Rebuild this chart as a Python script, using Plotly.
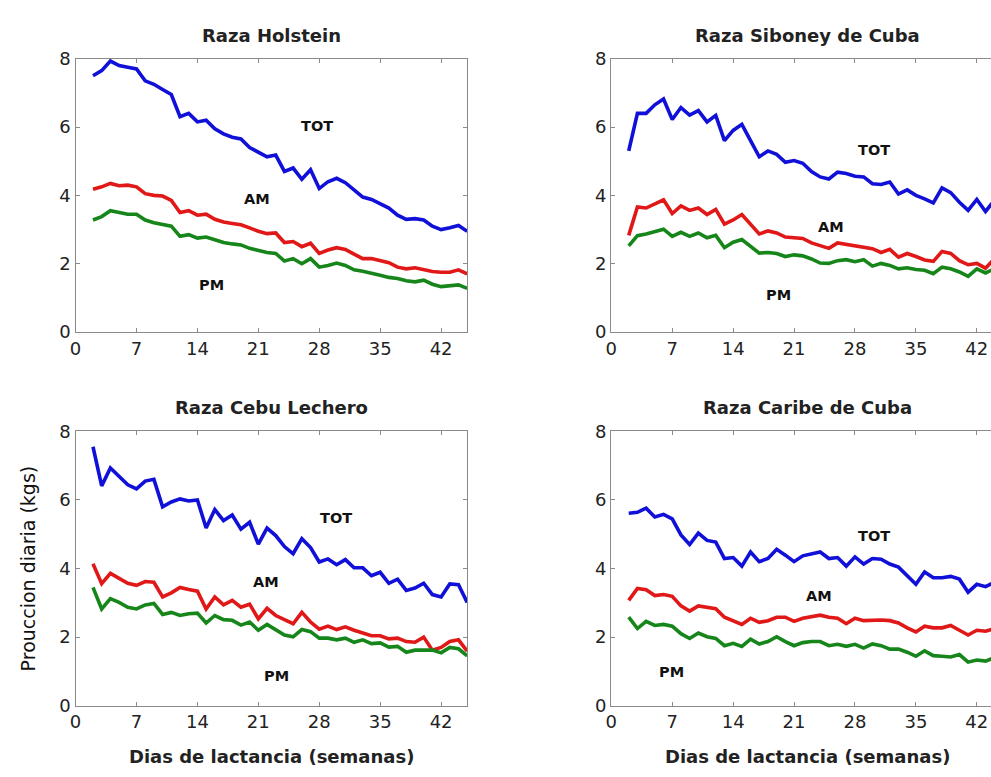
import plotly.graph_objects as go

W, H = 991, 777
weeks = list(range(2, 46))

holstein_tot = [7.5, 7.65, 7.93, 7.8, 7.75, 7.7, 7.35, 7.25, 7.1, 6.95, 6.3, 6.4, 6.15, 6.2, 5.95, 5.8, 5.7, 5.65, 5.4, 5.25, 5.13, 5.18, 4.7, 4.8, 4.47, 4.75, 4.2, 4.4, 4.5, 4.37, 4.15, 3.95, 3.88, 3.75, 3.63, 3.42, 3.3, 3.32, 3.28, 3.1, 3.0, 3.05, 3.12, 2.95]
holstein_am = [4.18, 4.25, 4.35, 4.28, 4.3, 4.25, 4.05, 4.0, 3.98, 3.85, 3.5, 3.55, 3.42, 3.45, 3.3, 3.22, 3.18, 3.14, 3.05, 2.95, 2.88, 2.9, 2.62, 2.65, 2.5, 2.6, 2.3, 2.4, 2.47, 2.42, 2.28, 2.15, 2.15, 2.08, 2.03, 1.9, 1.85, 1.88, 1.83, 1.77, 1.75, 1.75, 1.82, 1.7]
holstein_pm = [3.28, 3.38, 3.55, 3.5, 3.45, 3.45, 3.28, 3.2, 3.15, 3.1, 2.8, 2.85, 2.75, 2.78, 2.7, 2.62, 2.58, 2.55, 2.45, 2.38, 2.33, 2.3, 2.08, 2.15, 2.0, 2.15, 1.9, 1.95, 2.02, 1.95, 1.82, 1.78, 1.73, 1.66, 1.6, 1.57, 1.5, 1.47, 1.52, 1.4, 1.33, 1.35, 1.38, 1.28]

siboney_tot = [5.3, 6.4, 6.4, 6.65, 6.82, 6.22, 6.57, 6.35, 6.48, 6.15, 6.34, 5.6, 5.9, 6.08, 5.6, 5.13, 5.3, 5.2, 4.97, 5.02, 4.94, 4.7, 4.54, 4.48, 4.68, 4.64, 4.56, 4.54, 4.34, 4.32, 4.39, 4.04, 4.16, 4.0, 3.9, 3.78, 4.22, 4.08, 3.8, 3.56, 3.88, 3.53, 3.85, 3.7]
siboney_am = [2.83, 3.66, 3.63, 3.75, 3.87, 3.47, 3.69, 3.56, 3.63, 3.44, 3.59, 3.16, 3.28, 3.44, 3.14, 2.87, 2.96, 2.9, 2.78, 2.77, 2.74, 2.61, 2.52, 2.45, 2.61, 2.57, 2.52, 2.47, 2.44, 2.33, 2.42, 2.19, 2.3, 2.21, 2.11, 2.07, 2.36, 2.3, 2.09, 1.97, 2.01, 1.87, 2.14, 2.1]
siboney_pm = [2.52, 2.82, 2.87, 2.93, 3.01, 2.8, 2.92, 2.8, 2.9, 2.76, 2.83, 2.47, 2.63, 2.71, 2.52, 2.31, 2.33, 2.3, 2.21, 2.26, 2.23, 2.14, 2.02, 2.01, 2.09, 2.12, 2.06, 2.12, 1.93, 2.01, 1.95, 1.85, 1.88, 1.83, 1.81, 1.71, 1.9, 1.85, 1.76, 1.63, 1.85, 1.73, 1.85, 1.8]

cebu_tot = [7.55, 6.41, 6.93, 6.7, 6.44, 6.32, 6.55, 6.6, 5.8, 5.94, 6.03, 5.97, 6.0, 5.18, 5.72, 5.4, 5.56, 5.15, 5.35, 4.71, 5.18, 4.96, 4.64, 4.43, 4.87, 4.61, 4.19, 4.28, 4.11, 4.26, 4.02, 4.02, 3.79, 3.89, 3.57, 3.69, 3.36, 3.43, 3.57, 3.24, 3.17, 3.55, 3.53, 3.01]
cebu_am = [4.14, 3.56, 3.86, 3.72, 3.57, 3.51, 3.62, 3.6, 3.17, 3.29, 3.45, 3.39, 3.34, 2.82, 3.17, 2.94, 3.07, 2.87, 2.96, 2.53, 2.84, 2.63, 2.51, 2.39, 2.72, 2.44, 2.23, 2.32, 2.22, 2.3, 2.2, 2.11, 2.04, 2.04, 1.95, 1.97, 1.87, 1.85, 2.0, 1.62, 1.7, 1.87, 1.92, 1.59]
cebu_pm = [3.45, 2.82, 3.12, 3.01, 2.87, 2.82, 2.94, 2.98, 2.66, 2.72, 2.63, 2.68, 2.7, 2.41, 2.63, 2.51, 2.49, 2.35, 2.44, 2.2, 2.37, 2.22, 2.06, 2.01, 2.22, 2.16, 1.97, 1.97, 1.92, 1.97, 1.85, 1.92, 1.81, 1.83, 1.71, 1.73, 1.56, 1.62, 1.62, 1.62, 1.54, 1.7, 1.66, 1.45]

caribe_tot = [5.61, 5.64, 5.76, 5.5, 5.58, 5.45, 4.98, 4.7, 5.03, 4.82, 4.77, 4.29, 4.32, 4.07, 4.48, 4.2, 4.29, 4.56, 4.39, 4.2, 4.37, 4.43, 4.48, 4.29, 4.32, 4.07, 4.34, 4.13, 4.29, 4.27, 4.13, 4.04, 3.8, 3.54, 3.9, 3.73, 3.73, 3.77, 3.69, 3.31, 3.54, 3.47, 3.59, 3.5]
caribe_am = [3.07, 3.42, 3.38, 3.21, 3.24, 3.19, 2.91, 2.76, 2.91, 2.86, 2.83, 2.58, 2.48, 2.37, 2.55, 2.43, 2.48, 2.58, 2.58, 2.46, 2.55, 2.59, 2.64, 2.58, 2.55, 2.39, 2.55, 2.48, 2.5, 2.5, 2.48, 2.41, 2.27, 2.15, 2.32, 2.27, 2.27, 2.34, 2.2, 2.06, 2.2, 2.17, 2.25, 2.2]
caribe_pm = [2.58, 2.25, 2.46, 2.34, 2.37, 2.32, 2.1, 1.96, 2.12, 2.01, 1.96, 1.75, 1.82, 1.73, 1.94, 1.8, 1.87, 2.01, 1.87, 1.75, 1.84, 1.87, 1.87, 1.75, 1.79, 1.73, 1.79, 1.68, 1.8, 1.75, 1.65, 1.65, 1.56, 1.44, 1.6, 1.46, 1.44, 1.42, 1.49, 1.27, 1.33, 1.3, 1.4, 1.35]

titles = ["Raza Holstein", "Raza Siboney de Cuba", "Raza Cebu Lechero", "Raza Caribe de Cuba"]
series = [
    (holstein_tot, holstein_am, holstein_pm),
    (siboney_tot, siboney_am, siboney_pm),
    (cebu_tot, cebu_am, cebu_pm),
    (caribe_tot, caribe_am, caribe_pm),
]
# label positions (x in weeks, y in kg) for TOT, AM, PM
label_pos = [
    [(27.7, 6.03), (20.8, 3.9), (15.6, 1.37)],
    [(30.2, 5.32), (25.3, 3.08), (19.2, 1.08)],
    [(29.9, 5.47), (21.9, 3.6), (23.1, 0.88)],
    [(30.2, 4.94), (23.9, 3.2), (6.9, 0.99)],
]
label_names = ["TOT", "AM", "PM"]
colors = ["#1010d8", "#e01818", "#16861a"]

x_tick_vals = [0, 7, 14, 21, 28, 35, 42]
y_tick_vals = [0, 2, 4, 6, 8]

FONT = "DejaVu Sans"
px_per_week = (464 - 70) / 45.0

# pixel geometry of panels: (left, right_full, top, bottom)
panels = [
    (70, 464, 49, 330),
    (609, 609 + 394, 49, 330),
    (70, 464, 432, 714),
    (609, 609 + 394, 432, 714),
]

fig = go.Figure()
layout = {}
annotations = []
for i, (tot, am, pm) in enumerate(series):
    k = "" if i == 0 else str(i + 1)
    xa, ya = "x" + k, "y" + k
    for vals, c in zip((tot, am, pm), colors):
        fig.add_trace(go.Scatter(x=weeks, y=vals, mode="lines", xaxis=xa, yaxis=ya,
                                 line=dict(color=c, width=3.6), showlegend=False,
                                 hoverinfo="skip"))
    L, R, T, B = panels[i]
    vis_r = min(R, W)
    xmax = (vis_r - L) / px_per_week
    right_panel = i in (1, 3)
    common = dict(showgrid=False, zeroline=False, showline=True, linecolor="#8a8a8a",
                  linewidth=1.3, ticks="inside", ticklen=4, tickcolor="#8a8a8a",
                  tickfont=dict(family=FONT, size=18, color="#222"))
    layout["xaxis" + k] = dict(domain=[L / W, vis_r / W], range=[0, xmax], anchor=ya,
                               tickvals=x_tick_vals, mirror="ticks", **common)
    layout["yaxis" + k] = dict(domain=[1 - B / H, 1 - T / H], range=[0, 8], anchor=xa,
                               tickvals=y_tick_vals,
                               mirror=False if right_panel else "ticks", **common)
    cx = (L + R) / 2.0 / W
    annotations.append(dict(text="<b>%s</b>" % titles[i], x=cx, y=1 - (T - 24) / H,
                            xref="paper", yref="paper", showarrow=False,
                            font=dict(family=FONT, size=18, color="#222"),
                            xanchor="center", yanchor="middle"))
    for (lx, ly), name in zip(label_pos[i], label_names):
        annotations.append(dict(text="<b>%s</b>" % name, x=lx, y=ly, xref=xa, yref=ya,
                                showarrow=False, font=dict(family=FONT, size=14.5, color="#111"),
                                xanchor="center", yanchor="middle"))
    if i >= 2:
        annotations.append(dict(text="<b>Dias de lactancia (semanas)</b>", x=cx, y=1 - 766 / H,
                                xref="paper", yref="paper", showarrow=False,
                                font=dict(family=FONT, size=18, color="#222"),
                                xanchor="center", yanchor="middle"))

annotations.append(dict(text="Prouccion diaria (kgs)", x=22 / W, y=1 - 573 / H, xref="paper",
                        yref="paper", showarrow=False, textangle=-90,
                        font=dict(family=FONT, size=19, color="#111"),
                        xanchor="center", yanchor="middle"))

fig.update_layout(width=W, height=H, margin=dict(l=0, r=0, t=0, b=0),
                  paper_bgcolor="white", plot_bgcolor="white",
                  annotations=annotations, **layout)
fig.write_html("out.html")
